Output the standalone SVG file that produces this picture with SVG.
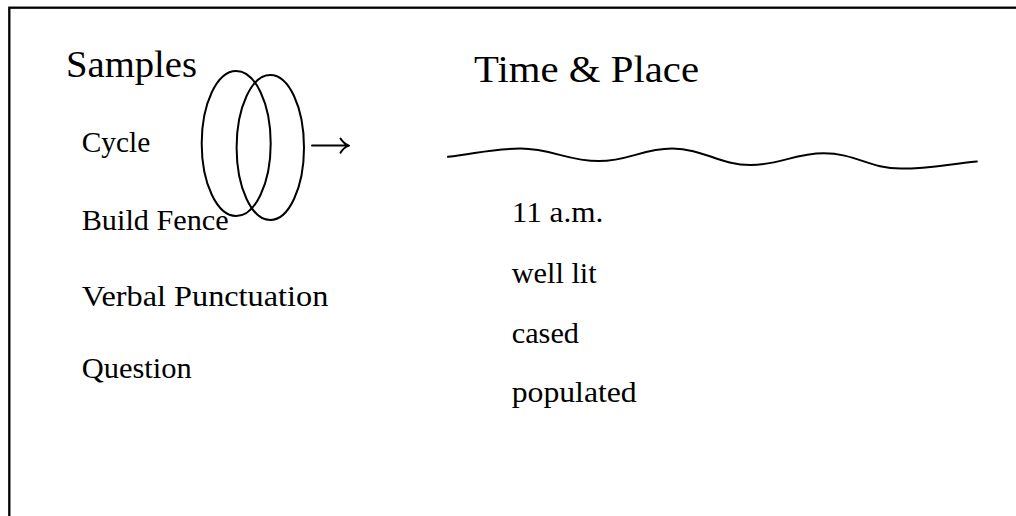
<svg xmlns="http://www.w3.org/2000/svg" width="1016" height="516" viewBox="0 0 1016 516">
<style>
text{font-family:'Liberation Serif','Times New Roman',serif;fill:#000}
.h{font-size:38.5px}
.b{font-size:30px}
.ln{fill:none;stroke:#000;stroke-width:2;stroke-linecap:round;stroke-linejoin:round}
</style>
<rect x="0" y="0" width="1016" height="516" fill="#fff"/>
<rect id="frame" x="9.3" y="7.7" width="1020" height="530" fill="none" stroke="#000" stroke-width="2.3"/>
<g id="samples-title"><text class="h" x="66" y="77.3" textLength="131" lengthAdjust="spacingAndGlyphs">Samples</text></g>
<g id="time-place-title"><text class="h" x="474" y="81.7" textLength="225" lengthAdjust="spacingAndGlyphs">Time &amp; Place</text></g>
<g id="cycle"><text class="b" x="81.7" y="151.7" textLength="68.5" lengthAdjust="spacingAndGlyphs">Cycle</text></g>
<g id="build-fence"><text class="b" x="81.7" y="230" textLength="147" lengthAdjust="spacingAndGlyphs">Build Fence</text></g>
<g id="verbal-punctuation"><text class="b" x="81.7" y="306" textLength="246.6" lengthAdjust="spacingAndGlyphs">Verbal Punctuation</text></g>
<g id="question"><text class="b" x="81.7" y="378.3" textLength="110" lengthAdjust="spacingAndGlyphs">Question</text></g>
<g id="time-11am"><text class="b" x="511.7" y="221.7" textLength="91.6" lengthAdjust="spacingAndGlyphs">11 a.m.</text></g>
<g id="well-lit"><text class="b" x="511.7" y="283.3" textLength="85" lengthAdjust="spacingAndGlyphs">well lit</text></g>
<g id="cased"><text class="b" x="511.7" y="343.3" textLength="67.3" lengthAdjust="spacingAndGlyphs">cased</text></g>
<g id="populated"><text class="b" x="511.7" y="401.7" textLength="125" lengthAdjust="spacingAndGlyphs">populated</text></g>
<g id="cycle-symbol">
<ellipse class="ln" cx="236.2" cy="143.5" rx="34.5" ry="72.5"/>
<ellipse class="ln" cx="270.3" cy="147.5" rx="33.7" ry="72.5"/>
</g>
<g id="connectors">
<path class="ln" stroke-width="1.8" d="M312,145.6 H348.6 M340.5,138.5 Q343.5,143.6 349,145.6 Q343.5,147.6 340.5,152.7"/>
<path class="ln" d="M448,156.8 C477,153.5 491.4,148.6 520.4,148.6 C551.8,148.6 567.5,161.1 598.9,161.1 C628.2,161.1 642.8,148.6 672.1,148.6 C703.5,148.6 719.3,165 750.7,165 C780,165 794.6,153.2 823.9,153.2 C854.6,153.2 870,168.6 900.7,168.6 C931.1,168.6 946.8,164.3 976.8,161.4"/>
</g>
</svg>
